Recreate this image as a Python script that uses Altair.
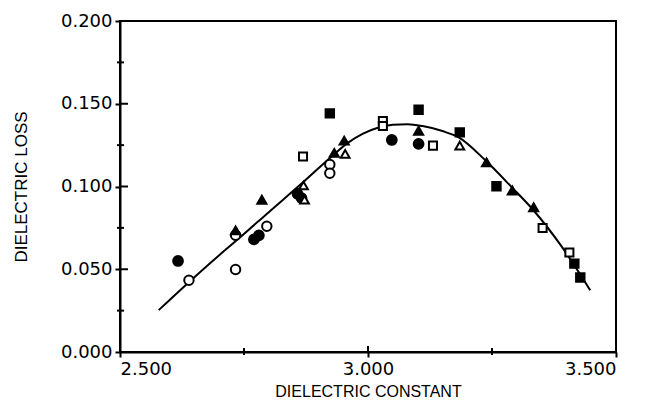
import altair as alt
import pandas as pd

# ---- data ----
fc_x = [2.617, 2.770, 2.780, 2.858, 2.866, 3.048, 3.102]
fc_y = [0.0550, 0.0680, 0.0705, 0.0955, 0.0930, 0.1281, 0.1257]

oc_x = [2.639, 2.733, 2.733, 2.796, 2.923, 2.923]
oc_y = [0.0434, 0.0498, 0.0705, 0.0760, 0.1133, 0.1080]

ft_x = [2.733, 2.786, 2.932, 2.952, 3.102, 3.239, 3.291, 3.334]
ft_y = [0.0735, 0.0920, 0.1203, 0.1277, 0.1337, 0.1146, 0.0976, 0.0875]

ot_x = [2.870, 2.872, 2.954, 3.185]
ot_y = [0.1006, 0.0920, 0.1197, 0.1247]

fs_x = [2.923, 3.102, 3.185, 3.259, 3.416, 3.428]
fs_y = [0.1442, 0.1464, 0.1327, 0.1002, 0.0534, 0.0450]

os_x = [2.869, 3.030, 3.030, 3.131, 3.352, 3.406]
os_y = [0.1181, 0.1395, 0.1365, 0.1247, 0.0749, 0.0601]

curve_x = [2.578, 2.640, 2.700, 2.743, 2.800, 2.869, 2.925, 2.960, 2.990, 3.020,
           3.050, 3.080, 3.110, 3.150, 3.182, 3.236, 3.290, 3.334, 3.391, 3.448]
curve_y = [0.0253, 0.0425, 0.0585, 0.0695, 0.0845, 0.1025, 0.1177, 0.1265, 0.1320, 0.1355,
           0.1373, 0.1376, 0.1365, 0.1335, 0.1298, 0.1160, 0.0995, 0.0855, 0.0635, 0.0373]

x_major = [2.5, 3.0, 3.5]
x_minor = [2.75, 3.25]
y_major = [0.0, 0.05, 0.10, 0.15, 0.20]
y_minor = [0.025, 0.075, 0.125, 0.175]

W, H = 496, 331

groups = [
    ("fc", fc_x, fc_y), ("oc", oc_x, oc_y),
    ("ft", ft_x, ft_y), ("ot", ot_x, ot_y),
    ("fs", fs_x, fs_y), ("os", os_x, os_y),
]
rows = []
for g, xs, ys in groups:
    for a, b in zip(xs, ys):
        rows.append({"x": a, "y": b, "g": g})
pts = pd.DataFrame(rows)
curve = pd.DataFrame({"x": curve_x, "y": curve_y})

FONT = "DejaVu Sans"
TFONT = "Liberation Sans"

xscale = alt.Scale(domain=[2.5, 3.5], nice=False, zero=False)
yscale = alt.Scale(domain=[0, 0.2], nice=False, zero=True)

xaxis = alt.Axis(values=x_major, format=".3f", title="DIELECTRIC CONSTANT",
                 grid=False, domainColor="black", domainWidth=2, tickColor="black",
                 tickWidth=2, tickSize=5, labelFont=FONT, labelFontSize=18,
                 labelColor="black", labelPadding=3, titleFont=TFONT, titleFontSize=16,
                 titleFontWeight="normal", titleColor="black", titlePadding=5)
yaxis = alt.Axis(values=y_major, format=".3f", title="DIELECTRIC LOSS",
                 grid=False, domainColor="black", domainWidth=2, tickColor="black",
                 tickWidth=2, tickSize=5, labelFont=FONT, labelFontSize=18,
                 labelColor="black", labelPadding=3, titleFont=TFONT, titleFontSize=17,
                 titleFontWeight="normal", titleColor="black", titlePadding=30)

line = alt.Chart(curve).mark_line(color="black", strokeWidth=2, interpolate="monotone").encode(
    x=alt.X("x:Q", scale=xscale, axis=xaxis),
    y=alt.Y("y:Q", scale=yscale, axis=yaxis),
    order="x:Q",
)

shape_scale = alt.Scale(domain=["fc", "oc", "ft", "ot", "fs", "os"],
                        range=["circle", "circle", "triangle-up", "triangle-up", "square", "square"])
fill_scale = alt.Scale(domain=["fc", "oc", "ft", "ot", "fs", "os"],
                       range=["black", "white", "black", "white", "black", "white"])
size_scale = alt.Scale(domain=["fc", "oc", "ft", "ot", "fs", "os"],
                       range=[95, 65, 110, 80, 100, 70])

points = alt.Chart(pts).mark_point(filled=True, stroke="black", strokeWidth=2, opacity=1).encode(
    x=alt.X("x:Q", scale=xscale),
    y=alt.Y("y:Q", scale=yscale),
    shape=alt.Shape("g:N", scale=shape_scale, legend=None),
    fill=alt.Fill("g:N", scale=fill_scale, legend=None),
    size=alt.Size("g:N", scale=size_scale, legend=None),
)

# inward parts of major ticks and small crossing minor ticks
ymaj_df = pd.DataFrame({"v": y_major})
ymin_df = pd.DataFrame({"v": y_minor})
xmaj_df = pd.DataFrame({"v": x_major})
xmin_df = pd.DataFrame({"v": x_minor})

ymaj_in = alt.Chart(ymaj_df).mark_rule(color="black", strokeWidth=2).encode(
    y=alt.Y("v:Q", scale=yscale), x=alt.value(0), x2=alt.value(8))
ymin_t = alt.Chart(ymin_df).mark_rule(color="black", strokeWidth=2).encode(
    y=alt.Y("v:Q", scale=yscale), x=alt.value(-3), x2=alt.value(4))
xmaj_in = alt.Chart(xmaj_df).mark_rule(color="black", strokeWidth=2).encode(
    x=alt.X("v:Q", scale=xscale), y=alt.value(H), y2=alt.value(H - 6))
xmin_t = alt.Chart(xmin_df).mark_rule(color="black", strokeWidth=2).encode(
    x=alt.X("v:Q", scale=xscale), y=alt.value(H + 3), y2=alt.value(H - 4))

chart = alt.layer(line, points, ymaj_in, ymin_t, xmaj_in, xmin_t).properties(
    width=W, height=H,
    autosize=alt.AutoSizeParams(type="none"),
    padding={"left": 112, "top": 13, "right": 45, "bottom": 52},
    background="white",
).configure_view(stroke="black", strokeWidth=2)

chart.save("out.html", embed_options={"renderer": "svg", "actions": False})
